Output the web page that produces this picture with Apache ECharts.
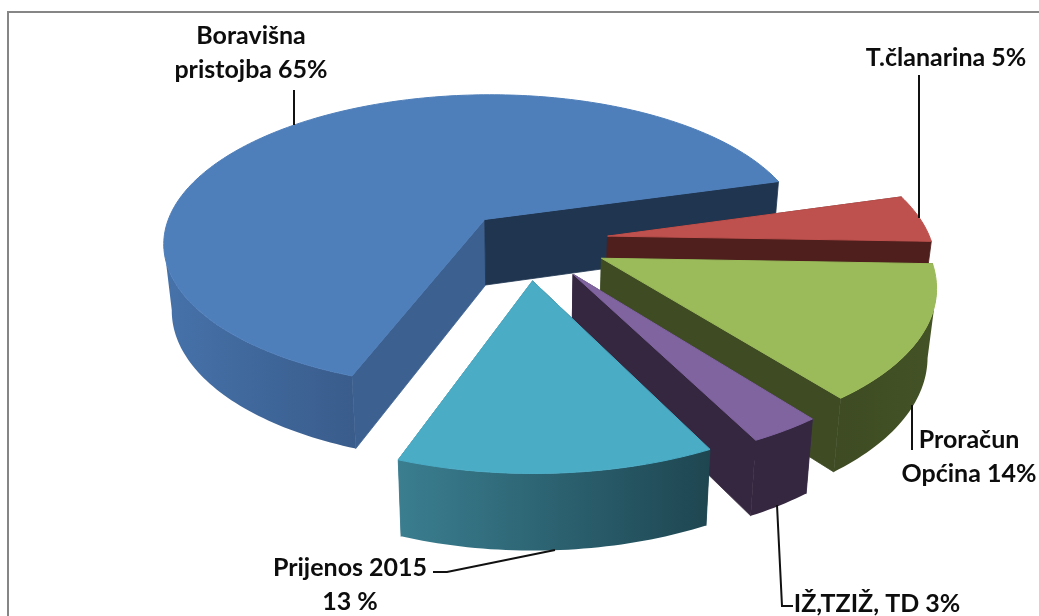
<!DOCTYPE html>
<html>
<head>
<meta charset="utf-8">
<style>html,body{margin:0;padding:0;background:#fff}#pie{width:1039px;height:616px}</style>
<script src="https://cdn.jsdelivr.net/npm/echarts@6/dist/echarts.min.js"></script>
</head>
<body>
<div id="pie"></div>
<script>
var categories = ["Boravišna pristojba", "T.članarina", "Proračun Općina", "IŽ,TZIŽ, TD", "Prijenos 2015"];
var values = [65, 5, 14, 3, 13];
var labels = ["Boravišna\npristojba 65%", "T.članarina 5%", "Proračun\nOpćina 14%", "IŽ,TZIŽ, TD 3%", "Prijenos 2015\n13 %"];

// slice look, same order as categories
var explode = [0.198, 0.251, 0.253, 0.256, 0.259];
var topColors = ["#4f7fba", "#be504d", "#9bba59", "#8064a0", "#4bacc6"];
var startWall = ["#3c6191", "#4f1f1d", "#3e4b23", "#35284a", "#1d4350"];
var endWall = ["#1f3550", "#4f1f1d", "#3e4b23", "#35273f", "#37798b"];
var rimStops = [["#4672aa", "#395c8b"], ["#4f1f1d", "#4f1f1d"], ["#3e4b23", "#445326"], ["#35273f", "#35273f"], ["#3a7e90", "#1e4651"]];

// where the texts and their leader lines sit
var labelPos = [[251, 19], [946, 41], [969, 423], [877, 587], [350, 551]];
var leaders = [
  [[294, 90], [294, 125]],
  [[919, 75], [919, 218]],
  [[912, 405], [912, 450]],
  [[777, 505], [782, 606], [793, 606]],
  [[555, 550], [447, 572], [433, 572]]
];

// perspective fitted to the picture: centre, radii, tilt, wall height
var cx = 527.4, cy = 240.65, rx = 323.3, ry = 149.6, persp = 0.152, depth = 68, shrink = 0.978;
var firstAngle = 1.92;
var total = values.reduce(function (a, b) { return a + b; }, 0);

function project(u, v, bottom) {
  var s = 1 / (1 - persp * v);
  if (bottom) {
    s = s * shrink;
    return [cx + rx * u * s, cy + (ry * v + depth) * s];
  }
  return [cx + rx * u * s, cy + ry * v * s];
}

function renderSlice(params, api) {
  var i = params.dataIndex;
  var a0 = firstAngle;
  for (var k = 0; k < i; k++) a0 += values[k] / total * Math.PI * 2;
  var sweep = api.value(0) / total * Math.PI * 2;
  var mid = a0 + sweep / 2;
  var ox = explode[i] * Math.cos(mid), oy = explode[i] * Math.sin(mid);

  var n = Math.max(4, Math.ceil(sweep / 0.02));
  var topArc = [], botArc = [], wallTop = [], wallBot = [];
  for (var t = 0; t <= n; t++) {
    var a = a0 + sweep * t / n;
    var u = ox + Math.cos(a), v = oy + Math.sin(a);
    topArc.push(project(u, v));
    botArc.push(project(u, v, true));
  }
  // only the part of the rim that faces the viewer
  for (var j = 0; j < n; j++) {
    if (topArc[j + 1][0] < topArc[j][0] && Math.sin(a0 + sweep * j / n) > -0.2) {
      if (!wallTop.length) { wallTop.push(topArc[j]); wallBot.push(botArc[j]); }
      wallTop.push(topArc[j + 1]);
      wallBot.push(botArc[j + 1]);
    }
  }

  var vTop = project(ox, oy), vBot = project(ox, oy, true);
  var kids = [];
  kids.push({
    type: "polygon",
    shape: { points: [vTop, topArc[0], botArc[0], vBot] },
    style: { fill: startWall[i], stroke: startWall[i], lineWidth: 0.8 }
  });
  kids.push({
    type: "polygon",
    shape: { points: [vTop, topArc[n], botArc[n], vBot] },
    style: { fill: endWall[i], stroke: endWall[i], lineWidth: 0.8 }
  });
  if (wallTop.length) {
    kids.push({
      type: "polygon",
      shape: { points: wallTop.concat(wallBot.slice().reverse()) },
      style: {
        fill: new echarts.graphic.LinearGradient(0, 0, 1, 0, [
          { offset: 0, color: rimStops[i][0] },
          { offset: 1, color: rimStops[i][1] }
        ])
      }
    });
  }
  kids.push({
    type: "polygon",
    shape: { points: [vTop].concat(topArc) },
    style: { fill: topColors[i], stroke: topColors[i], lineWidth: 1 }
  });
  kids.push({
    type: "polyline",
    shape: { points: leaders[i] },
    style: { stroke: "#111", lineWidth: 2, fill: "none" }
  });
  kids.push({
    type: "text",
    style: {
      text: labels[i],
      x: labelPos[i][0],
      y: labelPos[i][1],
      align: "center",
      verticalAlign: "top",
      fill: "#0d0d0d",
      font: "bold 25px Lato",
      lineHeight: 34
    }
  });
  return { type: "group", children: kids };
}

var myChart = echarts.init(document.getElementById("pie"));
var option = {
  animation: false,
  backgroundColor: "#fff",
  graphic: [{
    type: "rect",
    z: -1,
    shape: { x: 8, y: 12, width: 1100, height: 700 },
    style: { fill: "#fff", stroke: "#868686", lineWidth: 2 }
  }],
  series: [{
    type: "custom",
    coordinateSystem: "none",
    renderItem: renderSlice,
    silent: true,
    data: values.map(function (v, i) { return { name: categories[i], value: [v] }; })
  }]
};
myChart.setOption(option);
</script>
</body>
</html>
